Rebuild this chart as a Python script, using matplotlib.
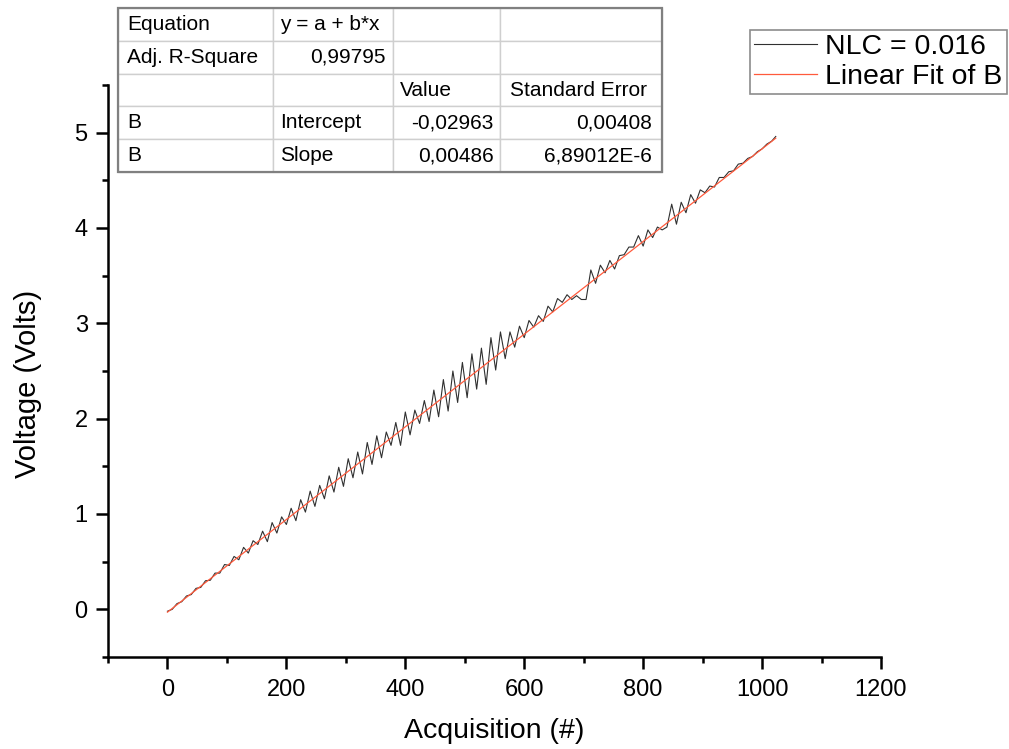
import numpy as np
import matplotlib.pyplot as plt
from matplotlib.patches import Rectangle

plt.rcParams['font.family'] = ['Liberation Sans', 'DejaVu Sans']

# acquisizioni (campioni letti ogni 8 acquisizioni)
acq = np.array(list(range(0, 1024, 8)) + [1023])

volt = np.array([
    -0.02, 0.00, 0.06, 0.08, 0.14, 0.155, 0.22, 0.23, 0.30, 0.305,
    0.38, 0.38, 0.47, 0.46, 0.555, 0.52, 0.65, 0.59, 0.72, 0.68,
    0.82, 0.71, 0.91, 0.80, 0.97, 0.89, 1.06, 0.93, 1.15, 1.02,
    1.24, 1.08, 1.30, 1.16, 1.40, 1.23, 1.49, 1.29, 1.58, 1.38,
    1.65, 1.42, 1.75, 1.52, 1.82, 1.59, 1.86, 1.72, 1.96, 1.72,
    2.07, 1.83, 2.09, 1.95, 2.19, 1.97, 2.30, 2.02, 2.41, 2.08,
    2.50, 2.17, 2.59, 2.22, 2.68, 2.31, 2.74, 2.36, 2.85, 2.51,
    2.91, 2.63, 2.91, 2.75, 2.97, 2.85, 3.03, 2.96, 3.08, 3.02,
    3.18, 3.12, 3.26, 3.22, 3.30, 3.25, 3.29, 3.25, 3.25, 3.56,
    3.42, 3.61, 3.53, 3.66, 3.57, 3.71, 3.72, 3.80, 3.80, 3.92,
    3.81, 3.98, 3.90, 4.01, 3.98, 4.01, 4.25, 4.04, 4.27, 4.16,
    4.35, 4.26, 4.40, 4.37, 4.44, 4.43, 4.53, 4.53, 4.59, 4.60,
    4.67, 4.68, 4.73, 4.75, 4.80, 4.83, 4.88, 4.91, 4.96])

# parametri del fit lineare
intercept = -0.02963
slope = 0.00486

table_rows = [
    ['Equation', 'y = a + b*x', '', ''],
    ['Adj. R-Square', '0,99795', '', ''],
    ['', '', 'Value', 'Standard Error'],
    ['B', 'Intercept', '-0,02963', '0,00408'],
    ['B', 'Slope', '0,00486', '6,89012E-6'],
]
right_cells = [(1, 1), (3, 2), (3, 3), (4, 2), (4, 3)]

fig = plt.figure(figsize=(10.09, 7.49), dpi=100)
ax = fig.add_axes([108 / 1009, 1 - 657 / 749, 773 / 1009, 572 / 749])

ax.plot(acq, volt, color='#303030', lw=0.8, label='NLC = 0.016')
xfit = np.array([0, 1023])
ax.plot(xfit, intercept + slope * xfit, color='#ff5a3c', lw=0.9,
        label='Linear Fit of B')

ax.set_xlim(-100, 1200)
ax.set_ylim(-0.5, 5.5)
ax.set_xticks(np.arange(0, 1201, 200))
ax.set_xticks(np.arange(-100, 1201, 100), minor=True)
ax.set_yticks(np.arange(0, 6, 1))
ax.set_yticks(np.arange(-0.5, 5.6, 0.5), minor=True)
for s in ['top', 'right']:
    ax.spines[s].set_visible(False)
for s in ['left', 'bottom']:
    ax.spines[s].set_linewidth(1.8)
ax.tick_params(which='major', direction='out', length=8.6, width=1.8,
               labelsize=17)
ax.tick_params(axis='x', which='major', pad=7)
ax.tick_params(axis='y', which='major', pad=6)
ax.tick_params(which='minor', direction='out', length=4.3, width=1.8)
ax.set_xlabel('Acquisition (#)', fontsize=20.5)
ax.set_ylabel('Voltage (Volts)', fontsize=21)
ax.xaxis.set_label_coords(0.5, -0.106)
ax.yaxis.set_label_coords(-0.085, 0.477)

leg = fig.legend(loc='upper right', bbox_to_anchor=(1007 / 1009, 1 - 30 / 749),
                 fontsize=20.5, frameon=True, fancybox=False, handlelength=2.2,
                 borderpad=0.15, labelspacing=0.12, handletextpad=0.3,
                 borderaxespad=0)
leg.get_frame().set_edgecolor('#707070')
leg.get_frame().set_linewidth(1.2)

# tabella dei risultati del fit
tax = fig.add_axes([118 / 1009, 1 - 172 / 749, 544 / 1009, 164 / 749])
tax.axis('off')
widths = np.array([155, 120, 107, 162]) / 544
tab = tax.table(cellText=table_rows, colWidths=widths, bbox=[0, 0, 1, 1],
                cellLoc='left')
tab.auto_set_font_size(False)
for (r, c), cell in tab.get_celld().items():
    cell.set_edgecolor('#cfcfcf')
    cell.set_linewidth(1.0)
    cell.get_text().set_fontsize(15)
    if (r, c) in right_cells:
        cell.get_text().set_horizontalalignment('right')
        cell._loc = 'right'
    cell.PAD = 0.06
tax.add_patch(Rectangle((0, 0), 1, 1, transform=tax.transAxes, fill=False,
                        edgecolor='#808080', lw=1.6, zorder=5, clip_on=False))

fig.savefig('out.png', dpi=100)
